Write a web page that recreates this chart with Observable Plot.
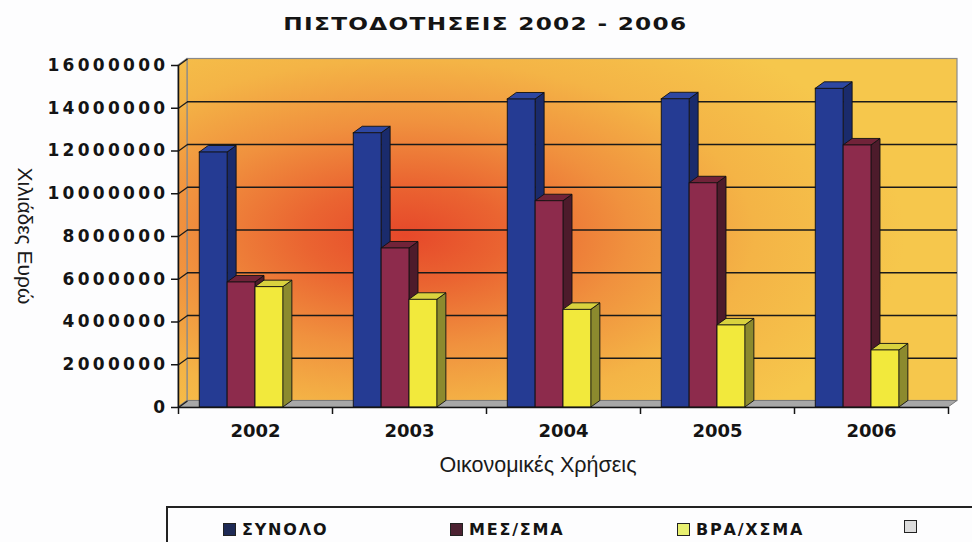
<!DOCTYPE html>
<html>
<head>
<meta charset="utf-8">
<script src="https://cdn.jsdelivr.net/npm/d3@7"></script>
<script src="https://cdn.jsdelivr.net/npm/@observablehq/plot@0.6"></script>
<style>
  html, body { margin: 0; padding: 0; background: #fdfdfe; }
  #wrap { position: relative; width: 972px; height: 542px; overflow: hidden; background: #fdfdfe; }
  #title { position: absolute; left: 0; width: 972px; top: 13px; text-align: center;
           font: bold 18px "DejaVu Sans"; letter-spacing: 1px; color: #141414;
           transform: scaleX(1.29); transform-origin: 488px 50%; }
  #chart { position: absolute; left: 0; top: 50px; }
  #ytitle { position: absolute; left: 25px; top: 236px; transform: translate(-50%, -50%) rotate(90deg);
            font: 21px "Liberation Sans"; color: #1a1a1a; white-space: nowrap; }
  #xtitle { position: absolute; left: 538px; top: 465px; transform: translate(-50%, -50%);
            font: 21.5px "Liberation Sans"; color: #1a1a1a; white-space: nowrap; }
  #legend { position: absolute; left: 166px; top: 506px; width: 840px; height: 60px;
            border: 2px solid #222; box-sizing: border-box; }
  .item { position: absolute; top: 12px; display: flex; align-items: center;
          font: bold 16px "DejaVu Sans"; letter-spacing: 1.8px; color: #141414; white-space: nowrap; }
  .swatch { width: 11px; height: 11px; border: 1px solid #222; margin-right: 6px; }
  g[aria-label="y-axis tick label"] text { letter-spacing: 3.3px; }
  g[aria-label="year label"] text { letter-spacing: 2.5px; }
</style>
</head>
<body>
<div id="wrap">
  <div id="title">ΠΙΣΤΟΔΟΤΗΣΕΙΣ 2002 - 2006</div>
  <div id="chart"></div>
  <div id="ytitle">Χιλιάδες Ευρώ</div>
  <div id="xtitle">Οικονομικές Χρήσεις</div>
  <div id="legend"></div>
</div>
<script>
// Financial years
const years = ["2002", "2003", "2004", "2005", "2006"];
// Series names (legend order)
const seriesNames = ["ΣΥΝΟΛΟ", "ΜΕΣ/ΣΜΑ", "ΒΡΑ/ΧΣΜΑ"];
// Credits in thousand euros, per year
const totalValues  = [11930000, 12830000, 14410000, 14420000, 14910000];
const mediumValues = [5850000, 7440000, 9650000, 10490000, 12260000];
const shortValues  = [5630000, 5040000, 4570000, 3840000, 2670000];
// Value-axis ticks
const yTicks = [0, 2000000, 4000000, 6000000, 8000000, 10000000, 12000000, 14000000, 16000000];
// Legend entries (the last one is an unnamed empty series)
const legendLabels = ["ΣΥΝΟΛΟ", "ΜΕΣ/ΣΜΑ", "ΒΡΑ/ΧΣΜΑ", ""];

const seriesValues = [totalValues, mediumValues, shortValues];
const frontColor = ["#253b93", "#8d2b4c", "#f2e93c"];
const sideColor  = ["#1a2b6c", "#4d1b2b", "#8c8a2e"];
const topColor   = ["#2e47a2", "#712339", "#d9d23e"];
const legendColor = ["#1e2a55", "#4c2232", "#e8f070", "#dcdcdc"];

// Frame geometry
const W = 972, H = 440, mL = 178, mR = 24, mT = 15, mB = 83;
const n = years.length;
const yMax = yTicks[yTicks.length - 1];
const pxPerCat = (W - mL - mR) / n;
const pxPerVal = (H - mT - mB) / yMax;
// 3D depth offset (9px right, 6.5px up) expressed in scale units
const depthX = 9 / pxPerCat;
const depthY = 6.5 / pxPerVal;

// Bar layout inside each year slot
const groupStart = 0.138, barW = 0.181;

const bars = [];
years.forEach((yr, i) => {
  seriesValues.forEach((vals, s) => {
    const x1 = i + groupStart + s * barW;
    bars.push({id: `${i}-${s}`, s, value: vals[i], x1, x2: x1 + barW});
  });
});
const sides = bars.flatMap(b => [
  {id: b.id, s: b.s, x: b.x2, y1: 0, y2: b.value},
  {id: b.id, s: b.s, x: b.x2 + depthX, y1: depthY, y2: b.value + depthY}
]);
const tops = bars.flatMap(b => [
  {id: b.id, s: b.s, y: b.value, x1: b.x1, x2: b.x2},
  {id: b.id, s: b.s, y: b.value + depthY, x1: b.x1 + depthX, x2: b.x2 + depthX}
]);

const backWall = [{x1: depthX, x2: n + depthX, y1: depthY, y2: yMax + depthY}];
const leftWall = [{x: 0, y1: 0, y2: yMax}, {x: depthX, y1: depthY, y2: yMax + depthY}];
const floor = [{y: 0, x1: 0, x2: n}, {y: depthY, x1: depthX, x2: n + depthX}];
const innerGrid = yTicks.slice(1, -1);

const svg = Plot.plot({
  width: W, height: H,
  marginLeft: mL, marginRight: mR, marginTop: mT, marginBottom: mB,
  style: {background: "transparent", overflow: "visible", color: "#141414"},
  x: {type: "linear", domain: [0, n], axis: null},
  y: {type: "linear", domain: [0, yMax], axis: null},
  color: {type: "identity"},
  marks: [
    // walls and floor
    Plot.rect(backWall, {x1: "x1", x2: "x2", y1: "y1", y2: "y2", fill: "url(#wallGlow)", stroke: "#8a8a8a", strokeWidth: 1.2}),
    Plot.areaY(leftWall, {x: "x", y1: "y1", y2: "y2", fill: "url(#wallGlow)", stroke: "#8a8a8a", strokeWidth: 1.2}),
    Plot.areaX(floor, {y: "y", x1: "x1", x2: "x2", fill: "#a8a8a8", stroke: "#7a7a7a", strokeWidth: 1}),
    // gridlines on the back wall and their runs across the side wall
    Plot.ruleY(innerGrid, {y: d => d + depthY, x1: depthX, x2: n + depthX, stroke: "#1a1a1a", strokeWidth: 1.4}),
    Plot.link(yTicks, {x1: 0, y1: d => d, x2: depthX, y2: d => d + depthY, stroke: "#1a1a1a", strokeWidth: 1.2}),
    // columns: side faces, tops, fronts
    Plot.areaY(sides, {x: "x", y1: "y1", y2: "y2", z: "id", fill: d => sideColor[d.s], stroke: "#111", strokeWidth: 0.9}),
    Plot.areaX(tops, {y: "y", x1: "x1", x2: "x2", z: "id", fill: d => topColor[d.s], stroke: "#111", strokeWidth: 0.9}),
    Plot.rect(bars, {x1: "x1", x2: "x2", y1: 0, y2: "value", fill: d => frontColor[d.s], stroke: "#111", strokeWidth: 0.9}),
    // axes
    Plot.ruleX([0], {y1: 0, y2: yMax, stroke: "#141414", strokeWidth: 1.5}),
    Plot.ruleY([0], {x1: 0, x2: n, stroke: "#141414", strokeWidth: 1.5}),
    Plot.axisY(yTicks, {anchor: "left", tickSize: 7, tickPadding: 3, tickFormat: d3.format("d"),
      fontFamily: "DejaVu Sans", fontWeight: "bold", fontSize: 17, strokeWidth: 1.5}),
    Plot.axisX(d3.range(n + 1), {anchor: "bottom", tickSize: 7, tickFormat: () => "", strokeWidth: 1.5}),
    Plot.text(years, {x: (d, i) => i + 0.5, y: 0, dy: 24, text: d => d, ariaLabel: "year label",
      fontFamily: "DejaVu Sans", fontWeight: "bold", fontSize: 18, fill: "#141414"})
  ]
});

// radial glow behind the columns
const defs = d3.select(svg).insert("defs", ":first-child");
const grad = defs.append("radialGradient")
  .attr("id", "wallGlow")
  .attr("gradientUnits", "userSpaceOnUse")
  .attr("cx", 405).attr("cy", 185).attr("r", 500)
  .attr("gradientTransform", "translate(405,185) scale(1,0.5) translate(-405,-185)");
[[0, "#e6482a"], [0.2, "#ea6431"], [0.45, "#f0913e"], [0.7, "#f4b446"], [1, "#f6c74c"]]
  .forEach(([o, c]) => grad.append("stop").attr("offset", o).attr("stop-color", c));

document.getElementById("chart").appendChild(svg);

// legend
const legend = d3.select("#legend");
legendLabels.forEach((label, i) => {
  const item = legend.append("div").attr("class", "item").style("left", `${55 + i * 227}px`);
  item.append("div").attr("class", "swatch").style("background", legendColor[i]);
  item.append("span").text(label);
});
</script>
</body>
</html>
